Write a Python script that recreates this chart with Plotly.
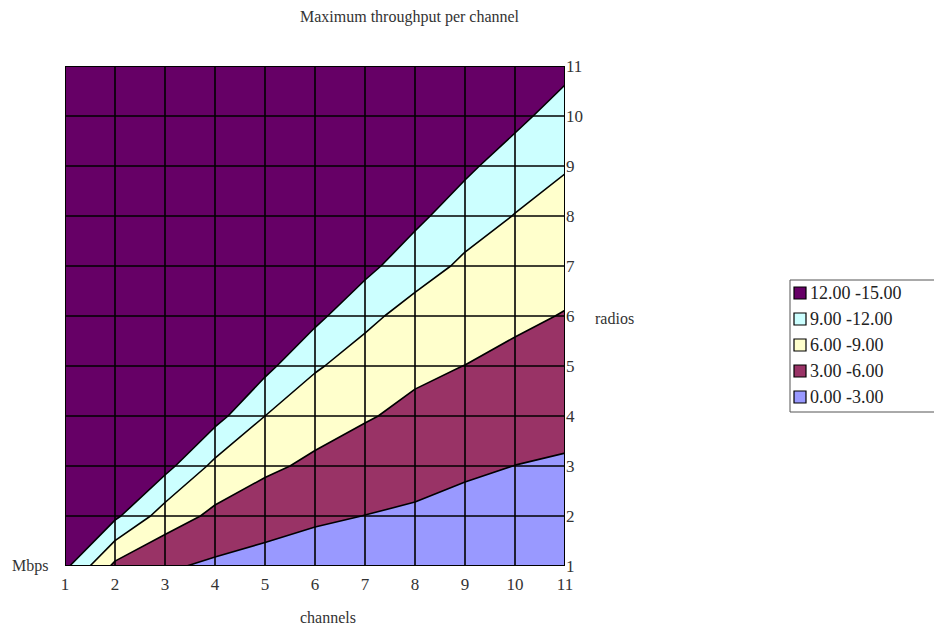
import plotly.graph_objects as go

# axes: channels (x) and radios (y)
channels = [1, 2, 3, 4, 5, 6, 7, 8, 9, 10, 11]
radios = [1, 2, 3, 4, 5, 6, 7, 8, 9, 10, 11]

# Maximum throughput per channel (Mbps), one list per channel count, values for radios 1..11
tp_c1 = [12.7, 12.7, 12.7, 12.7, 12.7, 12.7, 12.7, 12.7, 12.7, 12.7, 12.7]
tp_c2 = [5.29, 12.6, 12.6, 12.6, 12.6, 12.6, 12.6, 12.6, 12.6, 12.6, 12.6]
tp_c3 = [3.4, 7.53, 12.98, 12.98, 12.98, 12.98, 12.98, 12.98, 12.98, 12.98, 12.98]
tp_c4 = [2.48, 5.37, 8.23, 13.06, 13.06, 13.06, 13.06, 13.06, 13.06, 13.06, 13.06]
tp_c5 = [2.12, 3.99, 6.6, 9.0, 12.85, 12.85, 12.85, 12.85, 12.85, 12.85, 12.85]
tp_c6 = [1.58, 3.4, 5.4, 7.34, 9.27, 12.82, 12.82, 12.82, 12.82, 12.82, 12.82]
tp_c7 = [1.37, 2.97, 4.6, 6.23, 7.88, 9.58, 12.94, 12.94, 12.94, 12.94, 12.94]
tp_c8 = [1.33, 2.63, 3.96, 5.36, 6.55, 8.1, 10.0, 12.86, 12.86, 12.86, 12.86]
tp_c9 = [0.85, 2.13, 3.41, 4.69, 5.97, 7.47, 8.6, 10.03, 12.77, 12.77, 12.77]
tp_c10 = [0.64, 1.81, 2.98, 4.15, 5.32, 6.49, 7.7, 8.93, 10.1, 12.98, 12.98]
tp_c11 = [0.63, 1.68, 2.73, 3.78, 4.83, 5.88, 6.93, 8.03, 9.18, 10.28, 13.05]

band_labels = ["12.00 -15.00", "9.00 -12.00", "6.00 -9.00", "3.00 -6.00", "0.00 -3.00"]
band_colors = ["#660066", "#CCFFFF", "#FFFFCC", "#993366", "#9999FF"]

columns = [tp_c1, tp_c2, tp_c3, tp_c4, tp_c5, tp_c6, tp_c7, tp_c8, tp_c9, tp_c10, tp_c11]
z = [[columns[j][i] for j in range(len(channels))] for i in range(len(radios))]

asc = band_colors[::-1]
colorscale = []
for k, col in enumerate(asc):
    colorscale.append([k / 5, col])
    colorscale.append([(k + 1) / 5, col])

SERIF = "Liberation Serif, Times New Roman, serif"
TXT = "#333333"

# plot area in page pixels: x 65..565, y 66..566 (page has an 8px body margin)
def px_x(p):
    return (p - 65) / 500.0

def px_y(p):
    return (566 - p) / 500.0

fig = go.Figure()
fig.add_trace(go.Contour(
    x=channels, y=radios, z=z,
    autocontour=False,
    contours=dict(start=3, end=12, size=3, coloring="fill", showlines=True),
    line=dict(color="black", width=1.6, smoothing=0),
    colorscale=colorscale,
    showscale=False, showlegend=False, hoverinfo="skip",
))

# grid lines drawn above the filled contours
shapes = []
for c in channels:
    shapes.append(dict(type="line", xref="x", yref="y", x0=c, x1=c, y0=radios[0], y1=radios[-1],
                       line=dict(color="black", width=1.6), layer="above"))
for r in radios:
    shapes.append(dict(type="line", xref="x", yref="y", x0=channels[0], x1=channels[-1], y0=r, y1=r,
                       line=dict(color="black", width=1.6), layer="above"))
shapes.append(dict(type="rect", xref="x", yref="y", x0=channels[0], x1=channels[-1],
                   y0=radios[0], y1=radios[-1], line=dict(color="black", width=2), layer="above"))

annotations = [
    dict(text="Maximum throughput per channel", x=px_x(410), y=px_y(17)),
    dict(text="channels", x=px_x(328), y=px_y(617)),
    dict(text="radios", x=px_x(614), y=px_y(318)),
    dict(text="Mbps", x=px_x(30), y=px_y(566)),
]
for a in annotations:
    a.update(xref="paper", yref="paper", showarrow=False, xanchor="center", yanchor="middle",
             font=dict(family=SERIF, size=16, color=TXT))

# legend box (Excel style)
shapes.append(dict(type="rect", xref="paper", yref="paper",
                   x0=px_x(790), x1=px_x(940), y0=px_y(280), y1=px_y(412),
                   line=dict(color="#555555", width=1), fillcolor="white", layer="above"))
for k, (lab, col) in enumerate(zip(band_labels, band_colors)):
    cy = 293 + 26 * k
    shapes.append(dict(type="rect", xref="paper", yref="paper",
                       x0=px_x(794), x1=px_x(806), y0=px_y(cy + 6), y1=px_y(cy - 6),
                       line=dict(color="black", width=1.2), fillcolor=col, layer="above"))
    annotations.append(dict(text=lab, xref="paper", yref="paper", x=px_x(808), y=px_y(cy),
                            xanchor="left", yanchor="middle", showarrow=False,
                            font=dict(family=SERIF, size=18, color="#222222")))

fig.update_layout(
    width=934, height=620,
    margin=dict(l=57, r=377, t=58, b=62),
    paper_bgcolor="white", plot_bgcolor="white",
    font=dict(family=SERIF, size=16, color=TXT),
    showlegend=False,
    shapes=shapes,
    annotations=annotations,
    xaxis=dict(range=[1, 11], tickvals=channels, ticktext=[str(c) for c in channels],
               showgrid=False, zeroline=False, showline=False, ticks="",
               ticklabelstandoff=6,
               tickfont=dict(family=SERIF, size=17, color=TXT)),
    yaxis=dict(range=[1, 11], tickvals=radios, ticktext=[str(r) for r in radios],
               side="right", showgrid=False, zeroline=False, showline=False, ticks="",
               tickfont=dict(family=SERIF, size=17, color=TXT)),
)

fig.write_html("out.html")
